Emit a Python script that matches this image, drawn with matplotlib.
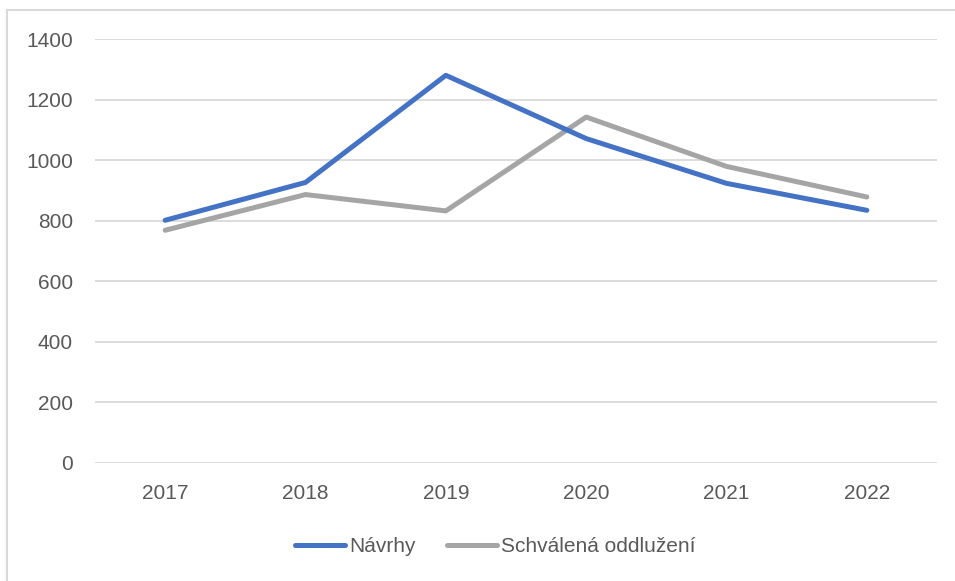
import matplotlib
matplotlib.use("Agg")
import matplotlib.pyplot as plt
from matplotlib.lines import Line2D

years = ["2017", "2018", "2019", "2020", "2021", "2022"]
navrhy = [802, 927, 1281, 1072, 924, 835]
schvalena = [769, 887, 833, 1143, 980, 879]
series_names = ["Návrhy", "Schválená oddlužení"]
yticks = [0, 200, 400, 600, 800, 1000, 1200, 1400]

plt.rcParams['font.family'] = ['Liberation Sans', 'DejaVu Sans']
txt = '#595959'

fig = plt.figure(figsize=(9.55, 5.81), dpi=100)
W, H = 955, 581
ax = fig.add_axes([95/W, 1 - 463/H, (937-95)/W, (463-39.3)/H])

x = list(range(len(years)))
blue = '#4472C4'
gray = '#A5A5A5'
ax.plot(x, navrhy, color=blue, lw=3.6, solid_capstyle='round', solid_joinstyle='round', zorder=3)
ax.plot(x, schvalena, color=gray, lw=3.6, solid_capstyle='round', solid_joinstyle='round', zorder=2)

ax.set_xlim(-0.5, len(years) - 0.5)
ax.set_ylim(0, 1400)
ax.set_yticks(yticks)
ax.set_yticklabels([str(v) for v in yticks])
ax.set_xticks(x)
ax.set_xticklabels(years)
ax.grid(axis='y', color='#D9D9D9', lw=1.3)
ax.set_axisbelow(True)
for s in ax.spines.values():
    s.set_visible(False)
ax.tick_params(axis='both', length=0, labelsize=15, colors=txt)
ax.tick_params(axis='y', pad=16)
ax.tick_params(axis='x', pad=15)

# chart border (top and left visible)
fig.add_artist(Line2D([7/W, 7/W], [0, 1 - 10/H], color='#D9D9D9', lw=1.5))
fig.add_artist(Line2D([7/W, 1], [1 - 10/H, 1 - 10/H], color='#D9D9D9', lw=1.5))

handles = [Line2D([], [], color=blue, lw=3.6, solid_capstyle='round'),
           Line2D([], [], color=gray, lw=3.6, solid_capstyle='round')]
leg = fig.legend(handles, series_names, loc='center', bbox_to_anchor=(495/W, 1 - 547/H),
                 ncol=2, frameon=False, fontsize=15, handlelength=2.4, handletextpad=0.2,
                 columnspacing=1.5)
for t in leg.get_texts():
    t.set_color(txt)

fig.savefig('out.png', dpi=100)
